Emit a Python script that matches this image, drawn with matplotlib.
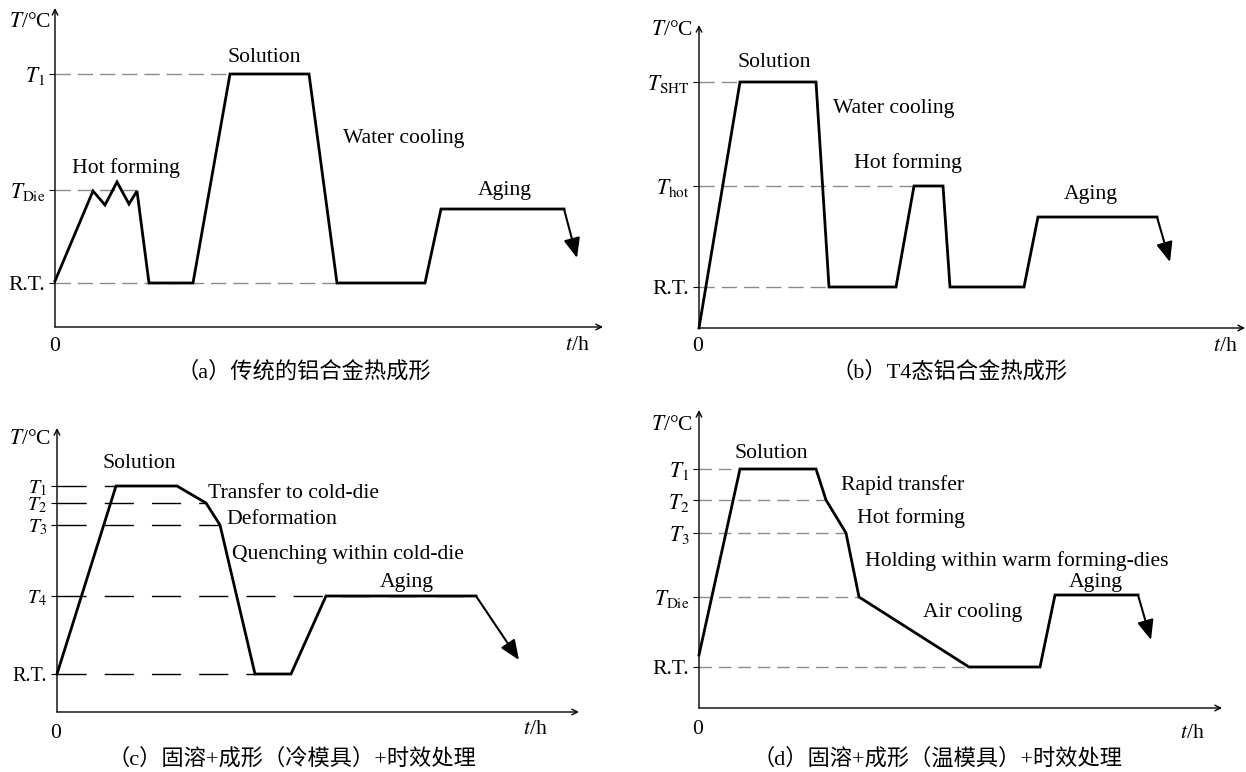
import matplotlib
matplotlib.use("Agg")
import matplotlib.pyplot as plt

plt.rcParams['font.family'] = ['Liberation Serif', 'Noto Sans CJK SC', 'DejaVu Sans']
plt.rcParams['mathtext.fontset'] = 'stix'

W, H = 1246, 772

# ---------------- data (time / temperature in arbitrary units) ----------------
# Panel (a)
a_t = [0, 38, 50, 62, 74, 82, 94, 138, 175, 254, 282, 370, 386, 509]
a_T = [46, 136, 122, 145, 123, 136, 44, 44, 253, 253, 44, 44, 118, 118]
a_end = (522, 69)
a_levels = [44, 137, 253]
a_level_labels = ['R.T.', r'$T_{\mathrm{Die}}$', r'$T_{1}$']
a_dash_end = [282, 82, 175]

# Panel (b)
b_t = [0, 41, 117, 130, 197, 215, 244, 251, 325, 339, 458]
b_T = [0, 246, 246, 41, 41, 142, 142, 41, 41, 111, 111]
b_end = (471, 66)
b_levels = [41, 142, 246]
b_level_labels = ['R.T.', r'$T_{\mathrm{hot}}$', r'$T_{\mathrm{SHT}}$']
b_dash_end = [130, 215, 41]

# Panel (c)
c_t = [0, 59, 120, 149, 163, 198, 234, 269, 419]
c_T = [38, 226, 226, 209, 187, 38, 38, 116, 116]
c_end = (462, 52)
c_levels = [38, 116, 187, 209, 226]
c_level_labels = ['R.T.', r'$T_{4}$', r'$T_{3}$', r'$T_{2}$', r'$T_{1}$']
c_dash_end = [198, 419, 163, 149, 59]

# Panel (d)
d_t = [0, 41, 117, 127, 147, 160, 270, 341, 356, 439]
d_T = [53, 239, 239, 208, 175, 111, 41, 41, 113, 113]
d_end = (452, 68)
d_levels = [41, 111, 175, 208, 239]
d_level_labels = ['R.T.', r'$T_{\mathrm{Die}}$', r'$T_{3}$', r'$T_{2}$', r'$T_{1}$']
d_dash_end = [270, 160, 147, 127, 41]

captions = ['（a）传统的铝合金热成形', '（b）T4态铝合金热成形',
            '（c）固溶+成形（冷模具）+时效处理', '（d）固溶+成形（温模具）+时效处理']

# labels: (text, x, y) in data units
a_notes = [('Solution', 209, 269), ('Water cooling', 349, 188),
           ('Hot forming', 71, 159), ('Aging', 450, 136)]
b_notes = [('Solution', 75, 265), ('Water cooling', 195, 219),
           ('Hot forming', 209, 165), ('Aging', 392, 133)]
c_notes = [('Solution', 82, 249), ('Transfer to cold-die', 237, 219),
           ('Deformation', 225, 193), ('Quenching within cold-die', 291, 157),
           ('Aging', 350, 130)]
d_notes = [('Solution', 72, 255), ('Rapid transfer', 204, 223),
           ('Hot forming', 212, 190), ('Holding within warm forming-dies', 318, 147),
           ('Aging', 397, 126), ('Air cooling', 274, 95)]

fig = plt.figure(figsize=(W / 100, H / 100), dpi=100)

FS = 15.6


def panel(ox, oy, xlen, ylen, t, T, end, levels, lab, dash_end, notes, caption,
          cap_xy, tlab_xy, zero_xy, th_xy, dash_style, dash_color, tick_fs=FS):
    ax = fig.add_axes([ox / W, (H - oy) / H, xlen / W, ylen / H])
    ax.set_xlim(0, xlen)
    ax.set_ylim(0, ylen)
    for s in ax.spines.values():
        s.set_visible(False)
    ax.set_xticks([])
    ax.set_yticks(levels, lab, fontsize=tick_fs)
    ax.tick_params(axis='y', length=4, width=0.8, direction='out', pad=3)
    ax.patch.set_alpha(0)
    # axes arrows
    ax.annotate('', xy=(1, 0), xytext=(0, 0), xycoords='axes fraction',
                arrowprops=dict(arrowstyle='->', lw=1.0, color='k',
                                shrinkA=0, shrinkB=0, mutation_scale=10),
                annotation_clip=False)
    ax.annotate('', xy=(0, 1), xytext=(0, 0), xycoords='axes fraction',
                arrowprops=dict(arrowstyle='->', lw=1.0, color='k',
                                shrinkA=0, shrinkB=0, mutation_scale=10),
                annotation_clip=False)
    # dashed reference levels
    for lv, de in zip(levels, dash_end):
        ax.plot([0, de], [lv, lv], ls=dash_style, color=dash_color, lw=1.0,
                zorder=1, clip_on=False)
    # process curve
    ax.plot(t, T, color='k', lw=2.0, solid_joinstyle='miter', zorder=3,
            clip_on=False)
    ax.annotate('', xy=end, xytext=(t[-1], T[-1]),
                arrowprops=dict(arrowstyle='-|>,head_length=0.6,head_width=0.25',
                                lw=1.5, color='k',
                                shrinkA=0, shrinkB=0, mutation_scale=20),
                annotation_clip=False, zorder=3)
    for txt, x, y in notes:
        ax.text(x, y, txt, fontsize=FS, ha='center', va='center')
    # axis labels
    ax.text(tlab_xy[0] - ox, oy - tlab_xy[1], r'$T$/°C', fontsize=FS,
            ha='center', va='center', clip_on=False)
    ax.text(zero_xy[0] - ox, oy - zero_xy[1], '0', fontsize=FS, ha='center', va='center')
    ax.text(th_xy[0] - ox, oy - th_xy[1], r'$t$/h', fontsize=FS, ha='center', va='center')
    ax.text(cap_xy[0] - ox, oy - cap_xy[1], caption, fontsize=16, ha='center',
            va='center', family=['Liberation Serif', 'Noto Sans CJK SC'])
    return ax


gray = '#8a8a8a'
panel(55, 327, 548, 319, a_t, a_T, a_end, a_levels, a_level_labels, a_dash_end,
      a_notes, captions[0], (304, 372), (30, 23), (55, 347), (577, 346),
      (0, (11, 5)), gray)
panel(699, 328, 546, 303, b_t, b_T, b_end, b_levels, b_level_labels, b_dash_end,
      b_notes, captions[1], (950, 372), (672, 31), (698, 347), (1225, 347),
      (0, (11, 5)), gray)
panel(57, 712, 522, 284, c_t, c_T, c_end, c_levels, c_level_labels, c_dash_end,
      c_notes, captions[2], (292, 759), (30, 439), (56, 733), (535, 730),
      (0, (21, 13)), 'k', tick_fs=14.5)
panel(699, 708, 523, 298, d_t, d_T, d_end, d_levels, d_level_labels, d_dash_end,
      d_notes, captions[3], (938, 759), (672, 425), (698, 730), (1192, 734),
      (0, (9, 5)), gray)

fig.savefig('out.png', dpi=100, facecolor='white')
